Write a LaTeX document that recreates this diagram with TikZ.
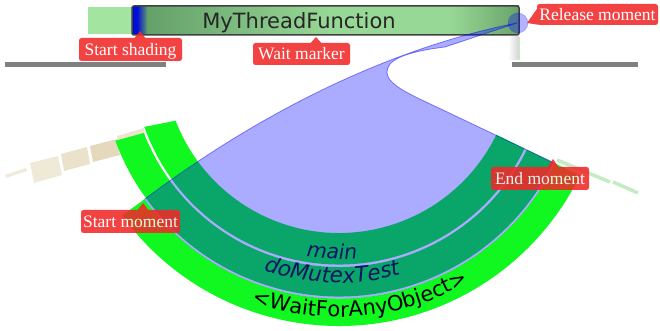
\documentclass[tikz,border=0pt]{standalone}
\usepackage{fontspec}
\usetikzlibrary{calc,decorations.text}
\newfontfamily\djsans{DejaVu Sans}
\newfontfamily\lblserif{Liberation Serif}
\definecolor{ringgreen}{RGB}{16,248,32}
\definecolor{lblred}{RGB}{240,40,40}
\definecolor{navytext}{RGB}{12,20,100}
\definecolor{barblue}{RGB}{0,12,215}
\definecolor{barga}{RGB}{100,160,105}
\definecolor{bargb}{RGB}{152,216,150}
\definecolor{bargc}{RGB}{105,163,105}
\definecolor{lightbar}{RGB}{162,228,160}
\definecolor{beige}{RGB}{222,208,172}
\definecolor{fadegreen}{RGB}{196,236,196}
\definecolor{railgray}{RGB}{128,128,128}
\tikzset{
  lbl/.style={fill=lblred, rounded corners=2.5pt, text=white,
    font=\lblserif\fontsize{17.5}{20}\selectfont, inner sep=0pt,
    text height=11.6pt, text depth=0pt},
  ringband/.style={fill=ringgreen},
  overlayfill/.style={fill=blue, fill opacity=0.33},
  overlayedge/.style={draw=blue, draw opacity=0.45, line width=0.8pt},
  tile/.style={fill=beige},
  rail/.style={fill=railgray},
  fadedash/.style={draw=fadegreen, line width=3.5pt},
  bartext/.style={font=\djsans\fontsize{21}{24}\selectfont, inner sep=0pt,
    text height=15.3pt, text depth=0pt, text=black!85},
  labelgroup/.style={transparency group, opacity=0.88}
}
\begin{document}
\begin{tikzpicture}[x=1pt,y=1pt]
\useasboundingbox (0,0) rectangle (660,331);
\coordinate (C) at (339,273);
% ---- top bar
\fill[lightbar] (88,297) rectangle (132,324);
\fill[barblue] (132,296) rectangle (137.5,325);
\shade[left color=barblue, right color=barga] (137,296) rectangle (147.5,325);
\shade[left color=barga, right color=bargb] (147,296) rectangle (330.5,325);
\fill[bargb] (330,296) rectangle (450.5,325);
\shade[left color=bargb, right color=bargc] (450,296) rectangle (519,325);
\draw[black!75, line width=1.5pt, rounded corners=2pt] (132,296) rectangle (519,325);
% ---- rails and strip
\fill[rail] (5,264) rectangle (166,269);
\fill[rail] (512,264) rectangle (638,269);
\shade[left color=white, right color=black!16] (508,271) rectangle (518.5,294);
\fill[fadegreen] (518.5,271) rectangle (520,294);
% ---- faded tiles (left)
\fill[tile, opacity=0.55] (117,195) -- (144,203) -- (145,197) -- (118,189) -- cycle;
\fill[tile, opacity=0.8] (90,185) -- (117,192) -- (120,176) -- (93,169) -- cycle;
\fill[tile, opacity=0.62] (61,177) -- (87,184) -- (90,167) -- (64,160) -- cycle;
\fill[tile, opacity=0.48] (30,168) -- (58,175) -- (62,156) -- (34,148) -- cycle;
\fill[tile, opacity=0.45] (5,156) -- (26,163) -- (27,160) -- (6,153) -- cycle;
% ---- faded dashes (right)
\draw[fadedash] (557,171) -- (610,149);
\draw[fadedash] (613,149) -- (638,138);
% ---- rings
\fill[ringband] ($(C)+(199.5:206.5pt)$) arc[start angle=199.5, end angle=334, radius=206.5pt]
  -- ($(C)+(334:175pt)$) arc[start angle=334, end angle=201, radius=175pt] -- cycle;
\fill[ringband] ($(C)+(200.3:238.5pt)$) arc[start angle=200.3, end angle=334, radius=238.5pt]
  -- ($(C)+(334:209pt)$) arc[start angle=334, end angle=201, radius=209pt] -- cycle;
\fill[ringband] ($(C)+(216:268pt)$) arc[start angle=216, end angle=334, radius=268pt]
  -- ($(C)+(334:240.5pt)$) arc[start angle=334, end angle=216, radius=240.5pt] -- cycle;
% ---- overlay
\coordinate (S) at ($(C)+(216:240.5pt)$);
\coordinate (E) at ($(C)+(-26:240.5pt)$);
\coordinate (R) at (517,308);
\coordinate (T) at (445,284);
\coordinate (N) at (387,258);
\coordinate (K) at (443,221);
\fill[overlayfill] (S) .. controls (250,211) and (380,281) .. (R) -- (T)
  .. controls (405,279) and (386,271) .. (N)
  .. controls (388,246) and (410,236.5) .. (K) -- (E)
  arc[start angle=-26, end angle=-144, radius=240.5pt] -- cycle;
\draw[overlayedge] (S) .. controls (250,211) and (380,281) .. (R) -- (T)
  .. controls (405,279) and (386,271) .. (N)
  .. controls (388,246) and (410,236.5) .. (K) -- (E);
\node[circle, minimum size=20pt, inner sep=0pt, fill=blue, fill opacity=0.3,
  draw=blue, draw opacity=0.25] (relc) at (518,308) {};
% ---- ring texts
\path[decorate, decoration={text along path, text align=center,
  text={|\djsans\itshape\fontsize{20.5}{24}\selectfont\color{navytext}|main}}]
  ($(C)+(228:201pt)$) arc[start angle=228, end angle=308, radius=201pt];
\path[decorate, decoration={text along path, text align=center,
  text={|\djsans\itshape\fontsize{21.5}{24}\selectfont\color{navytext}|doMutexTest}}]
  ($(C)+(228.2:225pt)$) arc[start angle=228.2, end angle=308.2, radius=225pt];
\path[decorate, decoration={text along path, text align=center,
  text={|\djsans\fontsize{21}{24}\selectfont\color{black}|<WaitForAnyObject>}}]
  ($(C)+(235.2:259pt)$) arc[start angle=235.2, end angle=315.2, radius=259pt];
% ---- bar text
\node[bartext] (fn) at (299,310) {MyThreadFunction};
% ---- labels
\begin{scope}[labelgroup]
\node[lbl, minimum width=103pt, minimum height=23pt] (ls) at (130.5,281.5) {Start shading};
\coordinate (lsTip) at (140,300);
\fill[lblred] ($(ls.north -| lsTip)+(-6pt,-1pt)$) -- (lsTip) -- ($(ls.north -| lsTip)+(6pt,-1pt)$) -- cycle;
\end{scope}
\begin{scope}[labelgroup]
\node[lbl, minimum width=97pt, minimum height=22pt] (wm) at (301.5,277) {Wait marker};
\coordinate (wmTip) at (316,294);
\fill[lblred] ($(wm.north -| wmTip)+(-6pt,-1pt)$) -- (wmTip) -- ($(wm.north -| wmTip)+(6pt,-1pt)$) -- cycle;
\end{scope}
\begin{scope}[labelgroup]
\node[lbl, minimum width=121pt, minimum height=21pt] (lr) at (597.5,316.5) {Release moment};
\coordinate (lrTip) at (527,308);
\fill[lblred] ($(lr.south west)+(1pt,0.5pt)$) -- (lrTip) -- ($(lr.south west)+(1pt,17.5pt)$) -- cycle;
\end{scope}
\begin{scope}[labelgroup]
\node[lbl, minimum width=99pt, minimum height=23pt] (sm) at (130.5,109.5) {Start moment};
\coordinate (smTip) at (143,128);
\fill[lblred] ($(sm.north -| smTip)+(-6pt,-1pt)$) -- (smTip) -- ($(sm.north -| smTip)+(6pt,-1pt)$) -- cycle;
\end{scope}
\begin{scope}[labelgroup]
\node[lbl, minimum width=98pt, minimum height=23pt] (em) at (540,152.5) {End moment};
\coordinate (emTip) at (553,172);
\fill[lblred] ($(em.north -| emTip)+(-6pt,-1pt)$) -- (emTip) -- ($(em.north -| emTip)+(6pt,-1pt)$) -- cycle;
\end{scope}
\end{tikzpicture}
\end{document}
